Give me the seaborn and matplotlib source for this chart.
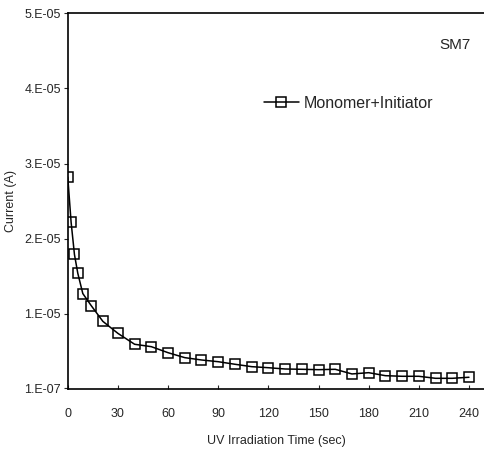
import pandas as pd
import numpy as np
import matplotlib.pyplot as plt
import seaborn as sns

# values
time_sec = [0, 2, 4, 6, 9, 14, 21, 30, 40, 50, 60, 70, 80, 90, 100, 110,
            120, 130, 140, 150, 160, 170, 180, 190, 200, 210, 220, 230, 240]
current_a = [2.82e-5, 2.22e-5, 1.79e-5, 1.54e-5, 1.27e-5, 1.11e-5, 0.90e-5, 0.74e-5,
             0.595e-5, 0.563e-5, 0.483e-5, 0.417e-5, 0.386e-5, 0.363e-5, 0.329e-5, 0.297e-5,
             0.283e-5, 0.266e-5, 0.262e-5, 0.257e-5, 0.262e-5, 0.200e-5, 0.217e-5, 0.177e-5,
             0.169e-5, 0.169e-5, 0.142e-5, 0.142e-5, 0.156e-5]
y_ticks = [1e-7, 1e-5, 2e-5, 3e-5, 4e-5, 5e-5]
y_tick_labels = ['1.E-07', '1.E-05', '2.E-05', '3.E-05', '4.E-05', '5.E-05']
x_ticks = [0, 30, 60, 90, 120, 150, 180, 210, 240]

df = pd.DataFrame({'time': time_sec, 'current': current_a})

sns.set_style('white')
plt.rcParams['font.family'] = ['Liberation Sans', 'DejaVu Sans']

fig = plt.figure(figsize=(4.84, 4.58), dpi=100)
ax = fig.add_axes([0.140, 0.1507, 0.860, 0.8203])

sns.lineplot(data=df, x='time', y='current', ax=ax, color='black', linewidth=1.1,
             marker='s', markersize=7, markerfacecolor='none', markeredgecolor='black',
             markeredgewidth=1.1, label='Monomer+Initiator')

ax.set_xlim(0, 249)
ax.set_ylim(0, 5e-5)
ax.set_xticks(x_ticks)
ax.set_xticklabels([str(t) for t in x_ticks], fontsize=9)
ax.set_yticks(y_ticks)
ax.set_yticklabels(y_tick_labels, fontsize=9)
ax.tick_params(axis='x', direction='in', length=3, width=0.8, pad=13.5, bottom=True)
ax.tick_params(axis='y', direction='out', length=3, width=0.8, pad=2, left=True)

for side in ['left', 'bottom', 'top']:
    ax.spines[side].set_color('black')
    ax.spines[side].set_linewidth(1.2)
ax.spines['right'].set_visible(False)

ax.set_xlabel('UV Irradiation Time (sec)', fontsize=9, labelpad=11)
ax.set_ylabel('Current (A)', fontsize=9, labelpad=5)

ax.text(0.93, 0.915, 'SM7', transform=ax.transAxes, fontsize=11, ha='center', va='center')

ax.legend(loc='center left', bbox_to_anchor=(0.545, 0.775), bbox_transform=fig.transFigure,
          frameon=False, fontsize=11.5, handlelength=2.2, handletextpad=0.3, borderpad=0,
          borderaxespad=0)

fig.savefig('out.png', dpi=100)
